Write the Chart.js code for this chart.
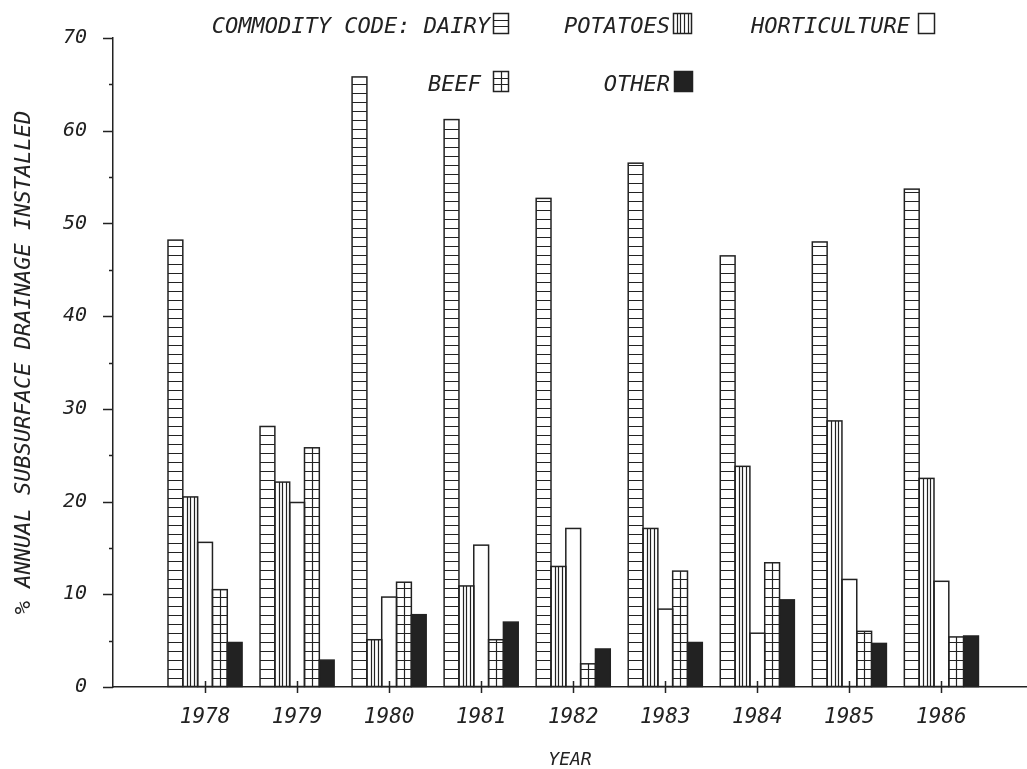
<!DOCTYPE html>
<html>
<head>
<meta charset="utf-8">
<script src="https://cdn.jsdelivr.net/npm/chart.js@4.4.0/dist/chart.umd.min.js"></script>
<style>
  html, body { margin: 0; padding: 0; background: #fff; }
  #wrap { width: 1027px; height: 769px; position: relative; }
</style>
</head>
<body>
<div id="wrap"><canvas id="chart"></canvas></div>
<script>
// values (% of annual subsurface drainage installed)
const years = [1978, 1979, 1980, 1981, 1982, 1983, 1984, 1985, 1986];
const dairy = [48.2, 28.1, 65.8, 61.2, 52.7, 56.5, 46.5, 48.0, 53.7];
const potatoes = [20.5, 22.1, 5.1, 10.9, 13.0, 17.1, 23.8, 28.7, 22.5];
const horticulture = [15.6, 19.9, 9.7, 15.3, 17.1, 8.4, 5.8, 11.6, 11.4];
const beef = [10.5, 25.8, 11.3, 5.1, 2.5, 12.5, 13.4, 6.0, 5.4];
const other = [4.8, 2.9, 7.8, 7.0, 4.1, 4.8, 9.4, 4.7, 5.5];
const yMax = 70;

const INK = '#222';
const FONT = "'DejaVu Sans Mono', monospace";

// fill pattern for each commodity
function drawHatch(ctx, kind, l, t, r, b, step) {
    ctx.save();
    ctx.beginPath();
    ctx.rect(l, t, r - l, b - t);
    ctx.clip();
    if (kind === 'solid') {
        ctx.fillStyle = INK;
        ctx.fillRect(l, t, r - l, b - t);
    }
    ctx.strokeStyle = INK;
    ctx.lineWidth = 1.2;
    ctx.beginPath();
    if (kind === 'h' || kind === 'grid') {
        for (let yy = b - step; yy > t + 1; yy -= step) {
            const py = Math.round(yy) + 0.5;
            ctx.moveTo(l, py);
            ctx.lineTo(r, py);
        }
    }
    if (kind === 'grid') {
        const cx = Math.round((l + r) / 2) + 0.5;
        ctx.moveTo(cx, t);
        ctx.lineTo(cx, b);
    }
    if (kind === 'v') {
        for (let xx = l + 3.7; xx < r - 1.5; xx += 3.7) {
            const px = Math.round(xx) + 0.5;
            ctx.moveTo(px, t);
            ctx.lineTo(px, b);
        }
    }
    ctx.stroke();
    ctx.restore();
}

const hatchBars = {
    id: 'hatchBars',
    afterDatasetsDraw(chart) {
        const ctx = chart.ctx;
        chart.data.datasets.forEach((ds, i) => {
            const meta = chart.getDatasetMeta(i);
            meta.data.forEach(bar => {
                const p = bar.getProps(['x', 'y', 'base', 'width'], true);
                const l = p.x - p.width / 2, r = p.x + p.width / 2;
                drawHatch(ctx, ds.hatch, l, p.y, r, p.base, 9);
                // outline again on top of the hatch
                ctx.save();
                ctx.strokeStyle = INK;
                ctx.lineWidth = 1.5;
                ctx.strokeRect(l, p.y, r - l, p.base - p.y);
                ctx.restore();
            });
        });
    }
};

// legend laid out like the original: text followed by a small pattern box
const legendSlots = [
    { row: 0, textRight: 490, boxLeft: 493, boxW: 15 },
    { row: 0, textRight: 670, boxLeft: 673, boxW: 18 },
    { row: 0, textRight: 910, boxLeft: 918, boxW: 16 },
    { row: 1, textRight: 481, boxLeft: 493, boxW: 15 },
    { row: 1, textRight: 670, boxLeft: 674, boxW: 18 }
];
const rowBase = [33, 91];

const plotLegend = {
    id: 'plotLegend',
    afterDraw(chart) {
        const ctx = chart.ctx;
        ctx.save();
        ctx.font = 'italic 22px ' + FONT;
        ctx.fillStyle = INK;
        ctx.textAlign = 'right';
        ctx.textBaseline = 'alphabetic';
        chart.data.datasets.forEach((ds, i) => {
            const s = legendSlots[i];
            const base = rowBase[s.row];
            const text = i === 0 ? 'COMMODITY CODE: ' + ds.label : ds.label;
            ctx.fillText(text, s.textRight, base);
            const t = base - 20, b = base;
            drawHatch(ctx, ds.hatch, s.boxLeft, t, s.boxLeft + s.boxW, b, 6.7);
            ctx.strokeStyle = INK;
            ctx.lineWidth = 1.5;
            ctx.strokeRect(s.boxLeft + 0.5, t + 0.5, s.boxW, b - t);
        });
        ctx.restore();
    }
};

// tick marks: long at tens, short at fives, crossing marks on the year axis
const axisTicks = {
    id: 'axisTicks',
    afterDraw(chart) {
        const { ctx, scales } = chart;
        const x = scales.x, y = scales.y;
        ctx.save();
        ctx.strokeStyle = INK;
        ctx.lineWidth = 1.5;
        ctx.beginPath();
        y.ticks.forEach(t => {
            const py = Math.round(y.getPixelForValue(t.value)) + 0.5;
            const len = t.value % 10 === 0 ? 10 : 4;
            ctx.moveTo(y.right - len, py);
            ctx.lineTo(y.right, py);
        });
        x.ticks.forEach(t => {
            const px = Math.round(x.getPixelForValue(t.value)) + 0.5;
            ctx.moveTo(px, x.top - 6);
            ctx.lineTo(px, x.top + 6);
        });
        ctx.stroke();
        ctx.restore();
    }
};

function makeSet(label, data, hatch) {
    return {
        label: label,
        data: data,
        hatch: hatch,
        backgroundColor: '#fff',
        borderColor: INK,
        borderWidth: 0,
        barPercentage: 1,
        categoryPercentage: 0.805
    };
}

new Chart(document.getElementById('chart'), {
    type: 'bar',
    data: {
        labels: years,
        datasets: [
            makeSet('DAIRY', dairy, 'h'),
            makeSet('POTATOES', potatoes, 'v'),
            makeSet('HORTICULTURE', horticulture, 'none'),
            makeSet('BEEF', beef, 'grid'),
            makeSet('OTHER', other, 'solid')
        ]
    },
    options: {
        responsive: true,
        maintainAspectRatio: false,
        animation: false,
        layout: { padding: { top: 36, right: 0, left: 0, bottom: 0 } },
        plugins: {
            legend: { display: false },
            tooltip: { enabled: false }
        },
        scales: {
            x: {
                type: 'linear',
                offset: false,
                min: 1977,
                max: 1986.93,
                afterBuildTicks: scale => {
                    scale.ticks = years.map(v => ({ value: v }));
                },
                afterFit: scale => { scale.height = 82; },
                grid: { drawOnChartArea: false, drawTicks: false },
                border: { display: true, color: INK, width: 1.5 },
                ticks: {
                    padding: 18,
                    color: INK,
                    font: { family: FONT, size: 21, style: 'italic' },
                    callback: v => String(v)
                },
                title: {
                    display: true,
                    text: 'YEAR',
                    color: INK,
                    font: { family: FONT, size: 18, style: 'italic', lineHeight: 1 },
                    padding: { top: 0, bottom: 0 }
                }
            },
            y: {
                min: 0,
                max: yMax,
                afterFit: scale => { scale.width = 113; },
                grid: { drawOnChartArea: false, drawTicks: false },
                border: { display: true, color: INK, width: 1.5 },
                ticks: {
                    stepSize: 5,
                    padding: 26,
                    color: INK,
                    font: { family: FONT, size: 20, style: 'italic' },
                    callback: v => (v % 10 === 0 ? String(v) : '')
                },
                title: {
                    display: true,
                    text: '% ANNUAL SUBSURFACE DRAINAGE INSTALLED',
                    color: INK,
                    font: { family: FONT, size: 22, style: 'italic' },
                    padding: { top: 11, bottom: 0 }
                }
            }
        }
    },
    plugins: [hatchBars, plotLegend, axisTicks]
});
</script>
</body>
</html>
